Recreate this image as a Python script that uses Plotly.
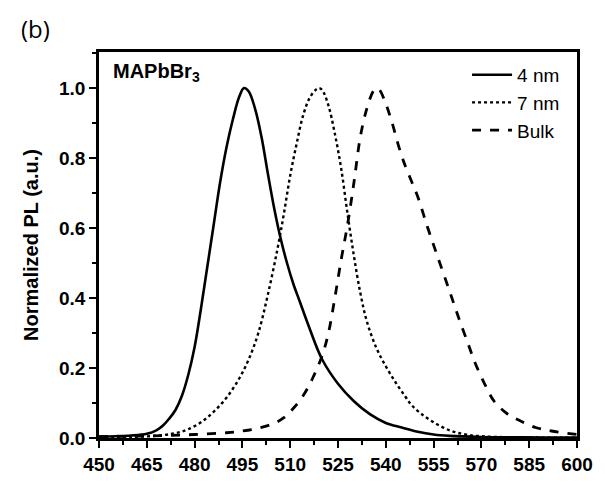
import plotly.graph_objects as go

# ---- data ----
wl_4nm = [450, 455, 460, 465, 468, 470, 472, 474, 476, 478, 480, 482, 484, 486, 488, 490, 492, 494, 495.5,
          497, 499, 501, 503, 505, 507, 509, 511, 513, 516, 520, 525, 530, 535, 540, 545, 550, 555, 560,
          570, 580, 590, 600]
pl_4nm = [0.004, 0.005, 0.007, 0.012, 0.022, 0.035, 0.055, 0.08, 0.12, 0.18, 0.26, 0.37, 0.49, 0.61, 0.73,
          0.83, 0.91, 0.975, 1.0, 0.99, 0.94, 0.86, 0.755, 0.655, 0.57, 0.5, 0.44, 0.39, 0.315, 0.225, 0.155,
          0.105, 0.068, 0.043, 0.03, 0.018, 0.01, 0.006, 0.003, 0.002, 0.001, 0.001]

wl_7nm = [450, 460, 470, 475, 478, 482, 486, 490, 494, 497, 500, 503, 506, 508, 510, 512, 514, 516, 518, 519,
          520, 522, 524, 526, 528, 530, 532, 534, 537, 540, 543, 546, 548, 551, 555, 560, 565, 570, 580, 600]
pl_7nm = [0.002, 0.003, 0.008, 0.016, 0.025, 0.045, 0.075, 0.115, 0.17, 0.225, 0.3, 0.41, 0.54, 0.64, 0.75,
          0.84, 0.92, 0.97, 0.995, 1.0, 0.995, 0.95, 0.87, 0.77, 0.64, 0.52, 0.415, 0.335, 0.258, 0.205, 0.16,
          0.12, 0.095, 0.07, 0.045, 0.022, 0.01, 0.005, 0.002, 0.001]

wl_bulk = [450, 460, 470, 480, 490, 495, 500, 505, 508, 511, 514, 517, 520, 522, 524, 526, 528, 530, 532, 534,
           536, 537, 538, 540, 542, 544, 546, 548, 550, 553, 556, 560, 563, 566, 568, 571, 574, 578, 582, 587,
           592, 600]
pl_bulk = [0.004, 0.005, 0.007, 0.01, 0.015, 0.02, 0.028, 0.042, 0.058, 0.085, 0.12, 0.17, 0.235, 0.3, 0.4,
           0.51, 0.61, 0.73, 0.86, 0.94, 0.99, 1.0, 0.995, 0.955, 0.9, 0.835, 0.78, 0.735, 0.69, 0.605, 0.525,
           0.42, 0.34, 0.265, 0.215, 0.155, 0.105, 0.07, 0.05, 0.03, 0.02, 0.01]

x_ticks = [450, 465, 480, 495, 510, 525, 540, 555, 570, 585, 600]
y_ticks = [0.0, 0.2, 0.4, 0.6, 0.8, 1.0]
y_tick_labels = ["0.0", "0.2", "0.4", "0.6", "0.8", "1.0"]

FONT = "Liberation Sans, Arial, sans-serif"

fig = go.Figure()
fig.add_trace(go.Scatter(x=wl_4nm, y=pl_4nm, mode="lines", name="4 nm",
                         line=dict(color="black", width=2.6, dash="solid", shape="spline")))
fig.add_trace(go.Scatter(x=wl_7nm, y=pl_7nm, mode="lines", name="7 nm",
                         line=dict(color="black", width=2.4, dash="dot", shape="spline")))
fig.add_trace(go.Scatter(x=wl_bulk, y=pl_bulk, mode="lines", name="Bulk",
                         line=dict(color="black", width=2.8, dash="dash", shape="spline")))

fig.update_layout(
    width=605, height=487,
    margin=dict(l=99, r=22, t=52, b=33),
    paper_bgcolor="white", plot_bgcolor="white",
    font=dict(family=FONT, color="black"),
    showlegend=True,
    legend=dict(x=0.975, xanchor="right", y=0.99, yanchor="top",
                bgcolor="rgba(0,0,0,0)", font=dict(size=19, family=FONT),
                tracegroupgap=0, itemwidth=40),
    annotations=[
        dict(text="MAPbBr<sub>3</sub>", x=0.025, y=0.985, xref="paper", yref="paper",
             xanchor="left", yanchor="top", showarrow=False,
             font=dict(size=20, family=FONT, color="black", weight="bold")),
        dict(text="(b)", x=-0.168, y=1.062, xref="paper", yref="paper", showarrow=False,
             xanchor="left", yanchor="middle",
             font=dict(size=24, family="Open Sans, sans-serif", color="black")),
    ],
)

fig.update_xaxes(
    range=[450, 600], tickmode="array", tickvals=x_ticks,
    ticktext=[str(v) for v in x_ticks],
    showline=True, linecolor="black", linewidth=2.5, mirror=True,
    ticks="outside", ticklen=7, tickwidth=2, tickcolor="black",
    minor=dict(dtick=7.5, tick0=450, ticks="outside", ticklen=4, tickwidth=2, tickcolor="black"),
    showgrid=False, zeroline=False,
    tickfont=dict(size=19, family=FONT, color="black", weight="bold"),
)
fig.update_yaxes(
    range=[0, 1.103], tickmode="array", tickvals=y_ticks, ticktext=y_tick_labels,
    showline=True, linecolor="black", linewidth=2.5, mirror=True,
    ticks="outside", ticklen=7, tickwidth=2, tickcolor="black",
    minor=dict(dtick=0.1, tick0=0, ticks="outside", ticklen=4, tickwidth=2, tickcolor="black"),
    showgrid=False, zeroline=False,
    tickfont=dict(size=19, family=FONT, color="black", weight="bold"),
    title=dict(text="Normalized PL (a.u.)", standoff=16,
               font=dict(size=20, family=FONT, color="black", weight="bold")),
)

fig.write_html("out.html")
